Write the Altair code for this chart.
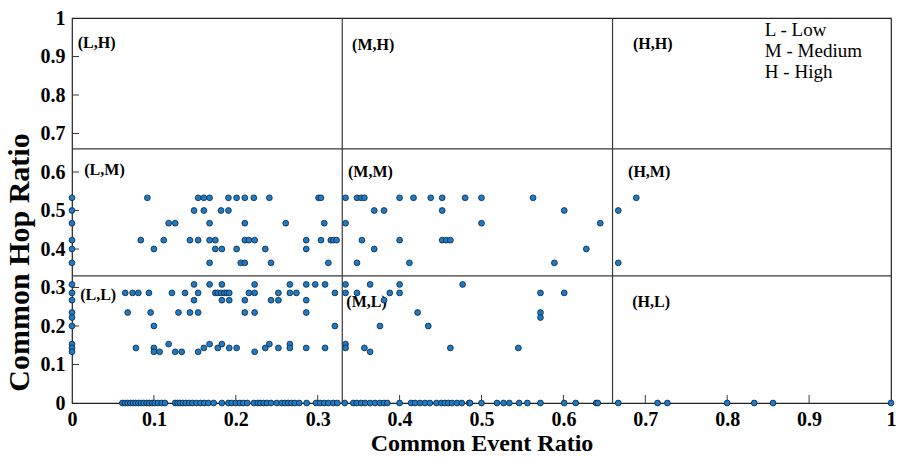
import altair as alt
import pandas as pd

# ---- data ----
hop_levels = [0.533, 0.5, 0.467, 0.423, 0.4, 0.364, 0.308, 0.286, 0.267,
              0.235, 0.222, 0.2, 0.153, 0.143, 0.133, 0.0]

ev_0533 = [0, 0.092, 0.154, 0.161, 0.168, 0.191, 0.201, 0.211, 0.222, 0.241, 0.301, 0.304,
           0.334, 0.348, 0.353, 0.357, 0.400, 0.417, 0.438, 0.452, 0.480, 0.500, 0.563, 0.689]
ev_0500 = [0, 0.149, 0.161, 0.182, 0.191, 0.369, 0.381, 0.452, 0.601, 0.667]
ev_0467 = [0, 0.118, 0.126, 0.168, 0.211, 0.261, 0.308, 0.334, 0.500, 0.645]
ev_0423 = [0, 0.084, 0.112, 0.144, 0.154, 0.168, 0.175, 0.211, 0.216, 0.223, 0.286, 0.304,
           0.316, 0.319, 0.323, 0.354, 0.400, 0.452, 0.457, 0.462]
ev_0400 = [0, 0.100, 0.175, 0.183, 0.201, 0.236, 0.286, 0.369, 0.628]
ev_0364 = [0, 0.168, 0.206, 0.211, 0.243, 0.313, 0.348, 0.412, 0.589, 0.667]
ev_0308 = [0, 0.149, 0.168, 0.183, 0.223, 0.266, 0.286, 0.297, 0.309, 0.334, 0.364, 0.400, 0.477]
ev_0286 = [0, 0.065, 0.074, 0.081, 0.094, 0.122, 0.138, 0.154, 0.175, 0.178, 0.182, 0.186,
           0.189, 0.192, 0.216, 0.223, 0.252, 0.266, 0.274, 0.321, 0.334, 0.348, 0.388,
           0.400, 0.572, 0.601]
ev_0267 = [0, 0.149, 0.183, 0.192, 0.211, 0.243, 0.252, 0.286, 0.381]
ev_0235 = [0, 0.068, 0.096, 0.130, 0.144, 0.154, 0.211, 0.223, 0.286, 0.422, 0.572]
ev_0222 = [0, 0.572]
ev_0200 = [0, 0.100, 0.321, 0.376, 0.435]
ev_0153 = [0, 0.118, 0.168, 0.183, 0.241, 0.266, 0.334]
ev_0143 = [0, 0.078, 0.100, 0.161, 0.178, 0.192, 0.201, 0.236, 0.252, 0.266, 0.286, 0.309,
           0.334, 0.357, 0.462, 0.545]
ev_0133 = [0, 0.100, 0.107, 0.126, 0.134, 0.154, 0.223, 0.364]
ev_0000 = [0.0615, 0.0647, 0.068, 0.0712, 0.0745, 0.0777, 0.081, 0.0842, 0.0875, 0.0912,
           0.0944, 0.098, 0.101, 0.105, 0.1095, 0.1135, 0.126, 0.129, 0.132, 0.1355, 0.139,
           0.143, 0.147, 0.152, 0.157, 0.1615, 0.1665, 0.173, 0.183, 0.191, 0.195, 0.200,
           0.205, 0.209, 0.214, 0.222, 0.227, 0.230, 0.234, 0.238, 0.243, 0.250, 0.256,
           0.260, 0.264, 0.268, 0.272, 0.2775, 0.2865, 0.298, 0.303, 0.308, 0.313, 0.319,
           0.324, 0.333, 0.3435, 0.3476, 0.353, 0.358, 0.364, 0.370, 0.376, 0.381, 0.385,
           0.400, 0.414, 0.419, 0.425, 0.431, 0.437, 0.445, 0.451, 0.455, 0.4595, 0.464,
           0.470, 0.476, 0.485, 0.486, 0.500, 0.519, 0.527, 0.534, 0.546, 0.556, 0.572,
           0.601, 0.615, 0.640, 0.642, 0.667, 0.715, 0.727, 0.800, 0.833, 0.856, 1.0]

event_rows = [ev_0533, ev_0500, ev_0467, ev_0423, ev_0400, ev_0364, ev_0308, ev_0286,
              ev_0267, ev_0235, ev_0222, ev_0200, ev_0153, ev_0143, ev_0133, ev_0000]

split_values = [0.33, 0.66]
tick_values = [0, 0.1, 0.2, 0.3, 0.4, 0.5, 0.6, 0.7, 0.8, 0.9, 1]
inner_ticks = [0.1, 0.2, 0.3, 0.4, 0.5, 0.6, 0.7, 0.8, 0.9]

region_names = ["(L,H)", "(M,H)", "(H,H)", "(L,M)", "(M,M)", "(H,M)", "(L,L)", "(M,L)", "(H,L)"]
region_x = [0.007, 0.342, 0.685, 0.015, 0.337, 0.679, 0.010, 0.335, 0.684]
region_y = [0.935, 0.930, 0.932, 0.605, 0.600, 0.600, 0.280, 0.262, 0.262]

key_lines = ["L  - Low", "M - Medium", "H  - High"]
key_x = [0.846, 0.846, 0.846]
key_y = [0.969, 0.914, 0.860]

# ---- build tables ----
rows = []
for h, evs in zip(hop_levels, event_rows):
    for e in evs:
        rows.append({"event": e, "hop": h})
points_df = pd.DataFrame(rows)
split_df = pd.DataFrame({"v": split_values})
ticks_df = pd.DataFrame({"v": inner_ticks})
regions_df = pd.DataFrame({"label": region_names, "x": region_x, "y": region_y})
key_df = pd.DataFrame({"label": key_lines, "x": key_x, "y": key_y})

FONT = "Times New Roman, Liberation Serif, Tinos, serif"
W, H = 819, 385
xscale = alt.Scale(domain=[0, 1], nice=False, zero=False)
yscale = alt.Scale(domain=[0, 1], nice=False, zero=False)

xaxis = alt.Axis(values=tick_values, format="~g", ticks=False, domain=False, grid=False,
                 labelFont=FONT, labelFontWeight="bold", labelFontSize=20, labelColor="black",
                 labelPadding=6, labelFlush=False, labelOverlap=False,
                 title="Common Event Ratio", titleFont=FONT, titleFontWeight="bold",
                 titleFontSize=24, titleColor="black", titlePadding=2)
yaxis = alt.Axis(values=tick_values, format="~g", ticks=False, domain=False, grid=False,
                 labelFont=FONT, labelFontWeight="bold", labelFontSize=20, labelColor="black",
                 labelPadding=7, labelFlush=False, labelOverlap=False,
                 title="Common Hop Ratio", titleFont=FONT, titleFontWeight="bold",
                 titleFontSize=30, titleColor="black", titleAngle=270,
                 titleX=-53, titleY=244, titleAlign="center", titleBaseline="middle")

def X(field):
    return alt.X(field, type="quantitative", scale=xscale, axis=xaxis, title="Common Event Ratio")

def Y(field):
    return alt.Y(field, type="quantitative", scale=yscale, axis=yaxis, title="Common Hop Ratio")

base_pts = alt.Chart(points_df).mark_point(
    filled=True, shape="circle", size=34, fill="#1f7ac4", stroke="#0b2740",
    strokeWidth=0.8, opacity=1, clip=False
).encode(x=X("event"), y=Y("hop"))

vlines = alt.Chart(split_df).mark_rule(color="#3a3a3a", strokeWidth=1.2).encode(
    x=X("v"), y=alt.value(0), y2=alt.value(H))
hlines = alt.Chart(split_df).mark_rule(color="#3a3a3a", strokeWidth=1.2).encode(
    y=Y("v"), x=alt.value(0), x2=alt.value(W))

xticks = alt.Chart(ticks_df).mark_rule(color="#3a3a3a", strokeWidth=1).encode(
    x=X("v"), y=alt.value(H), y2=alt.value(H - 8))
yticks = alt.Chart(ticks_df).mark_rule(color="#3a3a3a", strokeWidth=1).encode(
    y=Y("v"), x=alt.value(0), x2=alt.value(7))

region_text = alt.Chart(regions_df).mark_text(
    font=FONT, fontWeight="bold", fontSize=16, align="left", baseline="middle", color="black"
).encode(x=X("x"), y=Y("y"), text="label:N")

key_text = alt.Chart(key_df).mark_text(
    font=FONT, fontSize=19, align="left", baseline="middle", color="black"
).encode(x=X("x"), y=Y("y"), text="label:N")

chart = alt.layer(vlines, hlines, xticks, yticks, region_text, key_text, base_pts).properties(
    width=W, height=H,
    autosize=alt.AutoSizeParams(type="none"),
    padding={"left": 72, "top": 18, "right": 6, "bottom": 54},
    background="white",
).configure_view(stroke="#222222", strokeWidth=1.2).configure_axis(labelOverlap=False)

chart.save("out.html", embed_options={"renderer": "svg", "actions": False})
